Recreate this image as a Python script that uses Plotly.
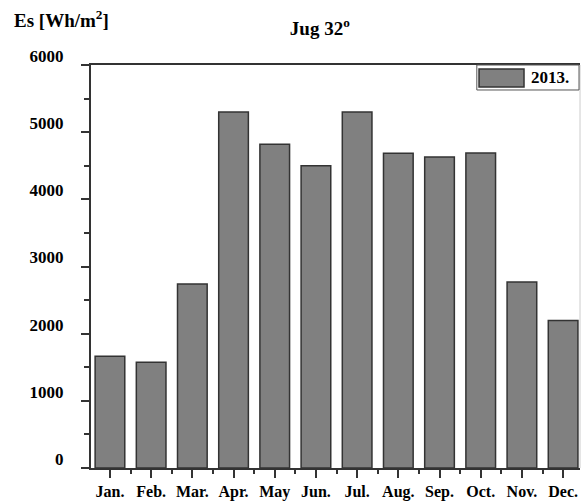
import plotly.graph_objects as go

# ---- data ----
months = ["Jan.", "Feb.", "Mar.", "Apr.", "May", "Jun.", "Jul.", "Aug.", "Sep.", "Oct.", "Nov.", "Dec."]
es_2013 = [1665, 1575, 2740, 5300, 4820, 4500, 5300, 4685, 4630, 4690, 2770, 2195]
series_name = "2013."
y_ticks = [0, 1000, 2000, 3000, 4000, 5000, 6000]
chart_title = "Jug 32<sup>o</sup>"
y_title = "Es [Wh/m<sup>2</sup>]"

x_pos = list(range(len(months)))

FONT = "Liberation Serif, Times New Roman, serif"
AX = "#333333"
BAR = "#808080"

fig = go.Figure()
fig.add_trace(go.Bar(
    x=x_pos, y=es_2013, name=series_name, width=0.72,
    marker=dict(color=BAR, line=dict(color=AX, width=1.5)),
    showlegend=False,
))

fig.update_layout(
    width=581, height=501,
    margin=dict(l=91, r=1, t=65, b=33),
    paper_bgcolor="white", plot_bgcolor="white",
    font=dict(family=FONT, color="black", weight="bold"),
    xaxis=dict(
        range=[-0.46, 11.41],
        tickvals=x_pos, ticktext=months,
        ticks="outside", ticklen=8, tickwidth=1.5, tickcolor=AX,
        showline=True, linecolor=AX, linewidth=2, mirror=True,
        showgrid=False, zeroline=False,
        tickfont=dict(family=FONT, size=16, color="black", weight="bold"),
        minor=dict(tick0=0.5, dtick=1, ticks="outside", ticklen=4, tickwidth=1.5, tickcolor=AX, showgrid=False),
    ),
    yaxis=dict(
        range=[0, 6000],
        tickvals=y_ticks,
        ticks="outside", ticklen=8, tickwidth=1.5, tickcolor=AX,
        showline=True, linecolor=AX, linewidth=2,
        showgrid=False, zeroline=False,
        ticklabelstandoff=14, ticklabelshift=-9,
        tickfont=dict(family=FONT, size=17, color="black", weight="bold"),
        minor=dict(tick0=0, dtick=500, ticks="outside", ticklen=5, tickwidth=1.5, tickcolor=AX, showgrid=False),
    ),
    title=dict(text=chart_title, x=0.468, xref="paper", xanchor="center",
               y=1 - 28 / 501, yanchor="middle",
               font=dict(family=FONT, size=19, color="black", weight="bold")),
    showlegend=False,
)

# y-axis title at the top-left
fig.add_annotation(text=y_title, xref="paper", yref="paper", x=-0.1616, y=1.113,
                   xanchor="left", yanchor="middle", showarrow=False,
                   font=dict(family=FONT, size=19, color="black", weight="bold"))

# right border (faint)
fig.add_shape(type="line", xref="paper", yref="paper", x0=1, x1=1, y0=0, y1=1,
              line=dict(color="#cccccc", width=1))

# legend box drawn manually to match the large swatch
fig.add_shape(type="rect", xref="paper", yref="paper", x0=0.789, x1=0.998, y0=0.938, y1=1.0,
              line=dict(color="#555555", width=1), fillcolor="white")
fig.add_shape(type="rect", xref="paper", yref="paper", x0=0.7935, x1=0.8855, y0=0.9454, y1=0.990,
              line=dict(color=AX, width=1.5), fillcolor=BAR)
fig.add_annotation(text=series_name, xref="paper", yref="paper", x=0.896, y=0.968,
                   xanchor="left", yanchor="middle", showarrow=False,
                   font=dict(family=FONT, size=17, color="black", weight="bold"))

fig.write_html(
    "out.html",
    config={"displayModeBar": False},
    post_script="document.body.style.margin='0';document.body.style.overflow='hidden';",
)
